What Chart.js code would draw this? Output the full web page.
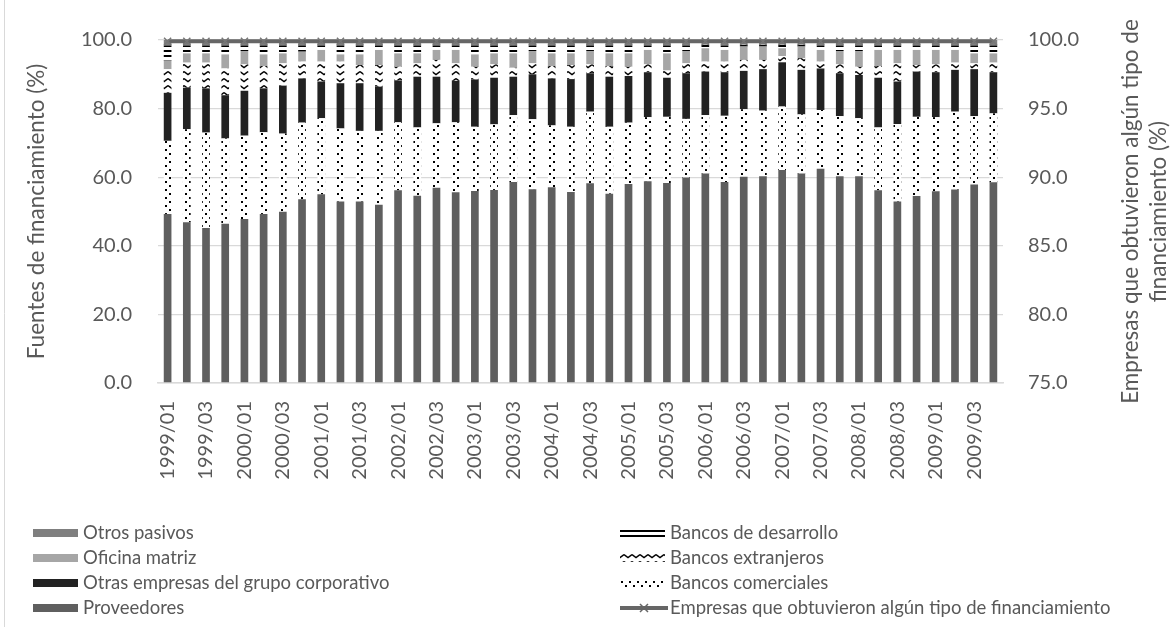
<!DOCTYPE html>
<html>
<head>
<meta charset="utf-8">
<script src="https://cdn.jsdelivr.net/npm/chart.js@4.4.0/dist/chart.umd.min.js"></script>
<style>
html,body{margin:0;padding:0;background:#fff;}
#wrap{position:relative;width:1171px;height:630px;}
</style>
</head>
<body>
<div id="wrap"><canvas id="graph" width="1171" height="630"></canvas></div>
<script>
/*************************** data ***************************/
const periods = [
  '1999/01','1999/02','1999/03','1999/04','2000/01','2000/02','2000/03','2000/04',
  '2001/01','2001/02','2001/03','2001/04','2002/01','2002/02','2002/03','2002/04',
  '2003/01','2003/02','2003/03','2003/04','2004/01','2004/02','2004/03','2004/04',
  '2005/01','2005/02','2005/03','2005/04','2006/01','2006/02','2006/03','2006/04',
  '2007/01','2007/02','2007/03','2007/04','2008/01','2008/02','2008/03','2008/04',
  '2009/01','2009/02','2009/03','2009/04'
];

const proveedores = [49.3,46.9,45.2,46.4,47.8,49.3,49.9,53.6,55.0,52.9,52.9,52.0,56.2,54.6,56.9,
  55.6,56.0,56.3,58.6,56.5,57.1,55.7,58.2,55.2,58.0,58.8,58.3,59.9,61.1,58.6,60.1,
  60.3,62.1,61.1,62.5,60.3,60.3,56.2,52.9,54.5,55.9,56.4,57.9,58.5];
const bancosComerciales = [21.3,27.1,27.8,24.9,24.3,23.8,22.8,22.3,22.2,21.3,20.6,21.5,19.8,19.9,18.8,
  20.4,18.7,19.1,19.5,20.4,18.0,19.0,20.9,19.5,17.9,18.7,19.3,17.1,17.0,19.3,19.7,
  19.1,18.5,17.2,17.1,17.5,16.9,18.3,22.6,23.1,21.6,22.7,19.9,20.1];
const otrasEmpresas = [14.0,12.1,12.9,12.6,13.1,12.8,14.0,12.9,10.7,13.2,13.9,12.9,12.2,14.8,13.6,
  12.1,13.8,13.6,11.2,13.1,13.7,13.9,11.2,14.6,13.6,13.1,11.4,13.3,12.7,12.7,11.2,
  12.1,12.9,13.0,12.1,12.5,12.6,14.5,12.4,13.2,13.1,12.2,13.7,12.0];
const bancosExtranjeros = [6.9,7.3,7.5,7.8,7.7,6.5,6.5,4.9,5.8,6.3,5.3,6.3,4.0,3.9,4.9,
  5.1,3.7,3.9,2.6,3.2,3.6,4.1,2.6,3.1,2.7,2.3,2.1,2.9,2.9,3.1,3.2,
  2.7,1.8,3.4,2.0,2.6,2.4,3.4,5.3,1.9,2.3,2.1,1.7,2.8];
const oficinaMatriz = [2.5,2.7,2.7,4.1,3.9,3.4,2.9,2.9,3.4,2.1,3.1,4.4,3.9,2.9,2.9,
  3.9,3.6,3.2,4.2,3.6,3.7,3.4,3.9,3.7,3.9,4.2,5.0,3.6,3.9,3.4,3.9,
  3.9,2.3,3.4,3.4,3.9,4.6,4.7,3.9,4.4,4.2,3.7,2.9,2.7];
const bancosDesarrollo = [4.4,2.3,2.3,2.6,1.6,2.6,2.3,1.8,1.3,2.6,2.6,1.3,2.3,2.3,1.3,
  1.3,2.6,2.3,2.3,1.6,2.3,2.3,1.6,2.3,2.3,1.3,2.3,1.6,1.0,1.3,0.5,
  0.5,1.0,0.5,1.3,1.6,1.6,1.3,1.3,1.3,1.3,1.3,2.3,2.3];
const otrosPasivos = [1.6,1.6,1.6,1.6,1.6,1.6,1.6,1.6,1.6,1.6,1.6,1.6,1.6,1.6,1.6,
  1.6,1.6,1.6,1.6,1.6,1.6,1.6,1.6,1.6,1.6,1.6,1.6,1.6,1.4,1.6,1.4,
  1.4,1.4,1.4,1.6,1.6,1.6,1.6,1.6,1.6,1.6,1.6,1.6,1.6];
const empresasConFinanciamiento = [99.9,99.9,99.9,99.9,99.9,99.9,99.9,99.9,99.9,99.9,99.9,99.9,99.9,99.9,99.9,
  99.9,99.9,99.9,99.9,99.9,99.9,99.9,99.9,99.9,99.9,99.9,99.9,99.9,99.9,99.9,99.9,
  99.9,99.9,99.9,99.9,99.9,99.9,99.9,99.9,99.9,99.9,99.9,99.9,99.9];

const leftTitle = 'Fuentes de financiamiento (%)';
const rightTitle = ['Empresas que obtuvieron algún tipo de', 'financiamiento (%)'];

/*************************** patterns ***************************/
const makePattern = (w, h, paint) => {
    let c = document.createElement('canvas');
    c.width = w; c.height = h;
    let g = c.getContext('2d');
    g.fillStyle = '#fff'; g.fillRect(0, 0, w, h);
    g.fillStyle = '#000'; g.strokeStyle = '#000';
    paint(g);
    return g.createPattern(c, 'repeat');
}
const dots = makePattern(8, 8, g => { g.fillRect(1, 1, 2, 2); g.fillRect(5, 5, 2, 2); });
const waves = makePattern(8, 7, g => {
    g.lineWidth = 1.4;
    g.beginPath(); g.moveTo(0, 1.5); g.lineTo(4, 4.5); g.lineTo(8, 1.5); g.stroke();
});
const stripes = makePattern(4, 5, g => { g.fillRect(0, 0, 4, 2); });

const textColor = '#595959';
const font = 'Lato';

/*************************** legend + titles ***************************/
const legendCols = [
    {x: 33, items: [6, 4, 2, 0]},
    {x: 620, items: [5, 3, 1, 7]}
];
const legendRowsY = [533, 558, 583, 608];

const decorPlugin = {
    id: 'decor',
    afterDraw(chart) {
        const ctx = chart.ctx;
        const a = chart.chartArea;
        ctx.save();
        // frame
        ctx.strokeStyle = '#d9d9d9';
        ctx.lineWidth = 1;
        ctx.beginPath(); ctx.moveTo(4.5, 0); ctx.lineTo(4.5, 627); ctx.stroke();

        // axis titles
        ctx.fillStyle = textColor;
        ctx.textAlign = 'center';
        ctx.textBaseline = 'middle';
        ctx.font = '22.5px ' + font;
        let cy = (a.top + a.bottom) / 2;
        ctx.save(); ctx.translate(37, cy); ctx.rotate(-Math.PI / 2); ctx.fillText(leftTitle, 0, 0); ctx.restore();
        ctx.save(); ctx.translate(1131, cy); ctx.rotate(-Math.PI / 2); ctx.fillText(rightTitle[0], 0, 0); ctx.restore();
        ctx.save(); ctx.translate(1159, cy); ctx.rotate(-Math.PI / 2); ctx.fillText(rightTitle[1], 0, 0); ctx.restore();

        // legend
        ctx.font = '18.5px ' + font;
        ctx.textAlign = 'left';
        legendCols.forEach(col => {
            col.items.forEach((di, r) => {
                const ds = chart.data.datasets[di];
                const y = legendRowsY[r];
                if (ds.type === 'line') {
                    ctx.strokeStyle = ds.borderColor;
                    ctx.lineWidth = 4;
                    ctx.beginPath(); ctx.moveTo(col.x, y); ctx.lineTo(col.x + 48, y); ctx.stroke();
                    ctx.lineWidth = 1.5;
                    const m = col.x + 24;
                    ctx.beginPath();
                    ctx.moveTo(m - 4, y - 4); ctx.lineTo(m + 4, y + 4);
                    ctx.moveTo(m - 4, y + 4); ctx.lineTo(m + 4, y - 4);
                    ctx.stroke();
                } else {
                    ctx.fillStyle = ds.backgroundColor;
                    ctx.fillRect(col.x, y - 4, 45, 8);
                }
                ctx.fillStyle = textColor;
                ctx.fillText(ds.label, col.x + 50, y);
            });
        });
        ctx.restore();
    }
};

/*************************** chart ***************************/
const bar = (label, data, color) => ({
    label: label, data: data, backgroundColor: color,
    borderWidth: 0, categoryPercentage: 1, barPercentage: 0.4,
    yAxisID: 'y', order: 1
});

const ctx = document.getElementById('graph');
const graph = new Chart(ctx, {
    type: 'bar',
    data: {
        labels: periods,
        datasets: [
            bar('Proveedores', proveedores, '#5f5f5f'),
            bar('Bancos comerciales', bancosComerciales, dots),
            bar('Otras empresas del grupo corporativo', otrasEmpresas, '#222222'),
            bar('Bancos extranjeros', bancosExtranjeros, waves),
            bar('Oficina matriz', oficinaMatriz, '#a6a6a6'),
            bar('Bancos de desarrollo', bancosDesarrollo, stripes),
            bar('Otros pasivos', otrosPasivos, '#7f7f7f'),
            {
                type: 'line',
                label: 'Empresas que obtuvieron algún tipo de financiamiento',
                data: empresasConFinanciamiento,
                yAxisID: 'y2',
                borderColor: '#666666',
                backgroundColor: '#666666',
                borderWidth: 4,
                pointStyle: 'crossRot',
                pointRadius: 5,
                pointBorderWidth: 1.5,
                pointBorderColor: '#777777',
                clip: false,
                order: 0
            }
        ]
    },
    options: {
        responsive: false,
        animation: false,
        devicePixelRatio: 1,
        layout: {padding: {top: 40, left: 0, right: 0, bottom: 0}},
        plugins: {legend: {display: false}, tooltip: {enabled: false}},
        scales: {
            x: {
                stacked: true,
                grid: {display: false, drawTicks: false},
                border: {color: '#d9d9d9', width: 1.5},
                ticks: {
                    autoSkip: false, minRotation: 90, maxRotation: 90, padding: 18,
                    color: textColor, font: {family: font, size: 20},
                    callback: (v, i) => i % 2 === 0 ? periods[i] : ''
                },
                afterFit: s => { s.height = 247; }
            },
            y: {
                stacked: true, position: 'left', min: 0, max: 100,
                grid: {color: '#d9d9d9', lineWidth: 1.3, drawTicks: false},
                border: {display: false},
                ticks: {stepSize: 20, padding: 26, color: textColor, font: {family: font, size: 20},
                    callback: v => v.toFixed(1)},
                afterFit: s => { s.width = 158; }
            },
            y2: {
                position: 'right', min: 75, max: 100,
                grid: {display: false, drawTicks: false},
                border: {display: false},
                ticks: {stepSize: 5, padding: 25, color: textColor, font: {family: font, size: 20},
                    callback: v => v.toFixed(1)},
                afterFit: s => { s.width = 168; }
            }
        }
    },
    plugins: [decorPlugin]
});
</script>
</body>
</html>
